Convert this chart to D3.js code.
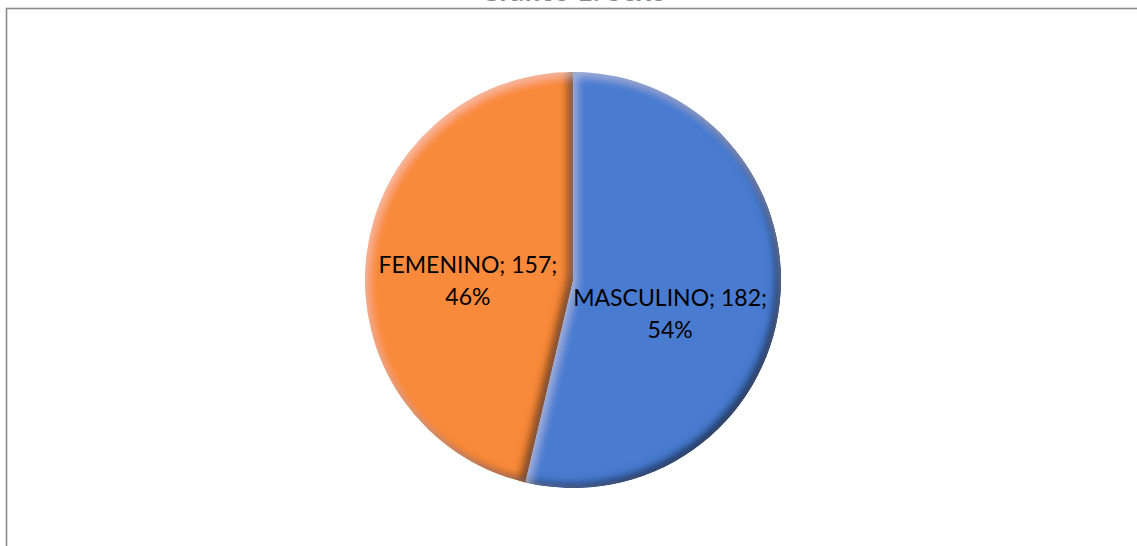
<!DOCTYPE html>
<html>
<head>
<meta charset="utf-8">
<script src="https://cdn.jsdelivr.net/npm/d3@7"></script>
<style>
  body { margin: 0; background: #fff; }
  svg { display: block; }
</style>
</head>
<body>
<div id="chart"></div>
<script>
// data
const categories = ["MASCULINO", "FEMENINO"];
const values = [182, 157];
const percents = ["54%", "46%"];
const colors = ["#4a7bd0", "#f98a3b"];
const title = "Gráfico 1. Sexo";

let width = 1137,
    height = 546,
    cx = 573,
    cy = 280,
    radius = 208;

const svg = d3
    .select("#chart")
    .append("svg")
    .attr("width", width)
    .attr("height", height);

// chart frame (partly cut off at top)
svg.append("rect")
    .attr("x", 6.5)
    .attr("y", 8.5)
    .attr("width", width + 20)
    .attr("height", height + 20)
    .attr("fill", "#fff")
    .attr("stroke", "#8a8a8a")
    .attr("stroke-width", 1.6);

// title sits above the visible area, only its lower edge shows
svg.append("text")
    .attr("x", cx)
    .attr("y", 1.2)
    .attr("text-anchor", "middle")
    .style("font-family", "Lato, sans-serif")
    .style("font-size", "28px")
    .style("font-weight", "bold")
    .style("fill", "#8a8a8a")
    .text(title);

// bevel look: dark inner shadow bottom-right, light highlight top-left
const defs = svg.append("defs");
const f = defs.append("filter").attr("id", "bevel")
    .attr("x", "-10%").attr("y", "-10%").attr("width", "120%").attr("height", "120%");
f.append("feGaussianBlur").attr("in", "SourceAlpha").attr("stdDeviation", 5).attr("result", "blur");
f.append("feOffset").attr("in", "blur").attr("dx", -5).attr("dy", -4).attr("result", "offDark");
f.append("feComposite").attr("in", "SourceAlpha").attr("in2", "offDark")
    .attr("operator", "arithmetic").attr("k2", 1).attr("k3", -1).attr("result", "darkMask");
f.append("feFlood").attr("flood-color", "#000").attr("flood-opacity", 0.95).attr("result", "black");
f.append("feComposite").attr("in", "black").attr("in2", "darkMask").attr("operator", "in").attr("result", "dark");
f.append("feOffset").attr("in", "blur").attr("dx", 3).attr("dy", 4).attr("result", "offLight");
f.append("feComposite").attr("in", "SourceAlpha").attr("in2", "offLight")
    .attr("operator", "arithmetic").attr("k2", 1).attr("k3", -1).attr("result", "lightMask");
f.append("feFlood").attr("flood-color", "#fff").attr("flood-opacity", 0.35).attr("result", "white");
f.append("feComposite").attr("in", "white").attr("in2", "lightMask").attr("operator", "in").attr("result", "light");
const merge = f.append("feMerge");
merge.append("feMergeNode").attr("in", "SourceGraphic");
merge.append("feMergeNode").attr("in", "dark");
merge.append("feMergeNode").attr("in", "light");

const data = categories.map((c, i) => ({ name: c, value: values[i], pct: percents[i], color: colors[i] }));

const pie = d3.pie().sort(null).value((d) => d.value);
const arc = d3.arc().innerRadius(0).outerRadius(radius);
const labelArc = d3.arc().innerRadius(radius * 0.47).outerRadius(radius * 0.47);

const g = svg.append("g").attr("transform", `translate(${cx},${cy})`);

g.selectAll("path")
    .data(pie(data))
    .join("path")
    .attr("d", arc)
    .attr("fill", (d) => d.data.color)
    .attr("filter", "url(#bevel)");

// Excel "best fit" labels don't sit exactly on the centroid
const labelShift = { MASCULINO: [0, 15], FEMENINO: [-8, 4] };
const labels = g.selectAll("text.lbl")
    .data(pie(data))
    .join("text")
    .attr("class", "lbl")
    .attr("text-anchor", "middle")
    .attr("transform", (d) => {
        const [x, y] = labelArc.centroid(d);
        const [dx, dy] = labelShift[d.data.name];
        return `translate(${x + dx},${y + dy})`;
    })
    .style("font-family", "Lato, sans-serif")
    .style("font-size", "23px")
    .style("fill", "#000");

labels.append("tspan").attr("x", 0).attr("y", 0).text((d) => `${d.data.name}; ${d.data.value};`);
labels.append("tspan").attr("x", 0).attr("y", 32).text((d) => d.data.pct);
</script>
</body>
</html>
